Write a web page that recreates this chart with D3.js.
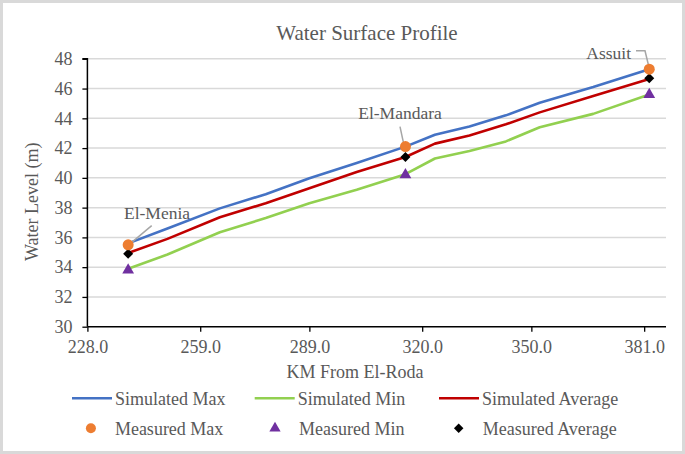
<!DOCTYPE html>
<html><head><meta charset="utf-8">
<script src="https://cdn.jsdelivr.net/npm/d3@7"></script>
<style>body{margin:0;background:#fff;} text{font-family:"Liberation Serif","Times New Roman",serif !important;fill:#595959;}</style>
</head><body><svg id="c" width="685" height="454"></svg>
<script>
const km = [239.2, 250, 264.4, 277, 289, 302, 315.4, 323.5, 333, 343, 352.3, 367, 382.4];
const simMax = [35.6, 36.6, 37.95, 38.9, 39.97, 41.0, 42.1, 42.9, 43.45, 44.2, 45.05, 46.1, 47.3];
const simAvg = [34.95, 35.9, 37.35, 38.3, 39.3, 40.4, 41.4, 42.3, 42.85, 43.6, 44.4, 45.5, 46.65];
const simMin = [33.9, 34.85, 36.35, 37.3, 38.3, 39.2, 40.25, 41.3, 41.8, 42.45, 43.4, 44.3, 45.6];
const stations = ["El-Menia", "El-Mandara", "Assuit"];
const stationKm = [239.2, 315.4, 382.4];
const measMax = [35.5, 42.1, 47.3];
const measAvg = [34.9, 41.4, 46.7];
const measMin = [33.8, 40.2, 45.6];
const xTicks = [228, 259, 289, 320, 350, 381];
const yTicks = [30, 32, 34, 36, 38, 40, 42, 44, 46, 48];

const svg = d3.select("#c");
svg.append("rect").attr("x",1.5).attr("y",1.5).attr("width",682).attr("height",451)
  .attr("fill","#fff").attr("stroke","#d9d9d9").attr("stroke-width",3);

const x = d3.scaleLinear().domain([228, 387]).range([87.4, 666]);
const y = d3.scaleLinear().domain([30, 48]).range([326.7, 58.8]);

// gridlines
svg.append("g").selectAll("line").data(yTicks.slice(1)).join("line")
  .attr("x1", x(228)).attr("x2", x(387)).attr("y1", d=>y(d)).attr("y2", d=>y(d))
  .attr("stroke","#d9d9d9").attr("stroke-width",1.5);

// axes
const yAxis = svg.append("g").attr("transform",`translate(${x(228)},0)`)
  .call(d3.axisLeft(y).tickValues(yTicks).tickSize(5).tickPadding(10).tickFormat(d3.format("d")));
const xAxis = svg.append("g").attr("transform",`translate(0,${y(30)})`)
  .call(d3.axisBottom(x).tickValues(xTicks).tickSize(5).tickPadding(9).tickFormat(d=>d.toFixed(1)));
[yAxis, xAxis].forEach(a=>{
  a.attr("font-family", null);
  a.select(".domain").attr("stroke","#000").attr("stroke-width",1.5);
  a.selectAll(".tick line").attr("stroke","#000").attr("stroke-width",1.3);
  a.selectAll(".tick text").style("font-size","18px").attr("fill","#595959");
});
yAxis.select(".domain").attr("d", `M-5,${y(48)}H0V${y(30)}`);
xAxis.select(".domain").attr("d", `M${x(228)},0H${x(387)}`);

// lines
const line = d3.line().x((d,i)=>x(km[i])).y(d=>y(d));
[[simMax,"#4472C4"],[simMin,"#92D050"],[simAvg,"#C00000"]].forEach(([s,c])=>{
  svg.append("path").attr("d", line(s)).attr("fill","none").attr("stroke",c)
    .attr("stroke-width",2.6).attr("stroke-linejoin","round");
});

// leader lines
const lead = svg.append("g").attr("stroke","#a6a6a6").attr("stroke-width",1.5).attr("fill","none");
lead.append("path").attr("d",`M151.7,225.7L${x(stationKm[0])+3},${y(measMax[0])-2}`);
lead.append("path").attr("d",`M400,126.7L${x(stationKm[1])-2},${y(measMax[1])-4}`);
lead.append("path").attr("d",`M636,50.7H645L${x(stationKm[2])-1},${y(measMax[2])-5}`);

// markers
const sym = (t,s)=>d3.symbol().type(t).size(s)();
svg.append("g").selectAll("path").data(stationKm).join("path")
  .attr("transform",(d,i)=>`translate(${x(d)},${y(measMin[i])})`)
  .attr("d", sym(d3.symbolTriangle, 60)).attr("fill","#7030A0");
svg.append("g").selectAll("path").data(stationKm).join("path")
  .attr("transform",(d,i)=>`translate(${x(d)},${y(measAvg[i])}) rotate(45)`)
  .attr("d", sym(d3.symbolSquare, 50)).attr("fill","#000");
svg.append("g").selectAll("circle").data(stationKm).join("circle")
  .attr("cx",d=>x(d)).attr("cy",(d,i)=>y(measMax[i])).attr("r",5.5).attr("fill","#ED7D31");

// station labels
const lab = [[157,213.3,"middle"],[400,112.7,"middle"],[631,52.7,"end"]];
svg.append("g").selectAll("text").data(stations).join("text")
  .attr("x",(d,i)=>lab[i][0]).attr("y",(d,i)=>lab[i][1]).attr("dy","0.35em")
  .attr("text-anchor",(d,i)=>lab[i][2]).style("font-size","17.5px").text(d=>d);

// titles
svg.append("text").attr("x",367).attr("y",33).attr("dy","0.35em").attr("text-anchor","middle")
  .style("font-size","21px").text("Water Surface Profile");
svg.append("text").attr("x",355).attr("y",371.7).attr("dy","0.35em").attr("text-anchor","middle")
  .style("font-size","18px").text("KM From El-Roda");
svg.append("text").attr("transform","translate(31.7,201.7) rotate(-90)").attr("dy","0.35em")
  .attr("text-anchor","middle").style("font-size","18px").text("Water Level (m)");

// legend
const legLines = [["Simulated Max","#4472C4",72],["Simulated Min","#92D050",254.7],["Simulated Average","#C00000",439]];
legLines.forEach(([t,c,lx])=>{
  svg.append("line").attr("x1",lx).attr("x2",lx+40).attr("y1",398.3).attr("y2",398.3)
    .attr("stroke",c).attr("stroke-width",2.6);
  svg.append("text").attr("x",lx+43).attr("y",398.3).attr("dy","0.35em").style("font-size","18px").text(t);
});
const legMarks = [["Measured Max",90.9],["Measured Min",275],["Measured Average",458.7]];
svg.append("circle").attr("cx",90.9).attr("cy",428.3).attr("r",5).attr("fill","#ED7D31");
svg.append("path").attr("transform","translate(275,428.3)").attr("d",sym(d3.symbolTriangle,55)).attr("fill","#7030A0");
svg.append("path").attr("transform","translate(458.7,428.3) rotate(45)").attr("d",sym(d3.symbolSquare,45)).attr("fill","#000");
legMarks.forEach(([t,mx])=>{
  svg.append("text").attr("x",mx+24).attr("y",428.3).attr("dy","0.35em").style("font-size","18px").text(t);
});
</script></body></html>
